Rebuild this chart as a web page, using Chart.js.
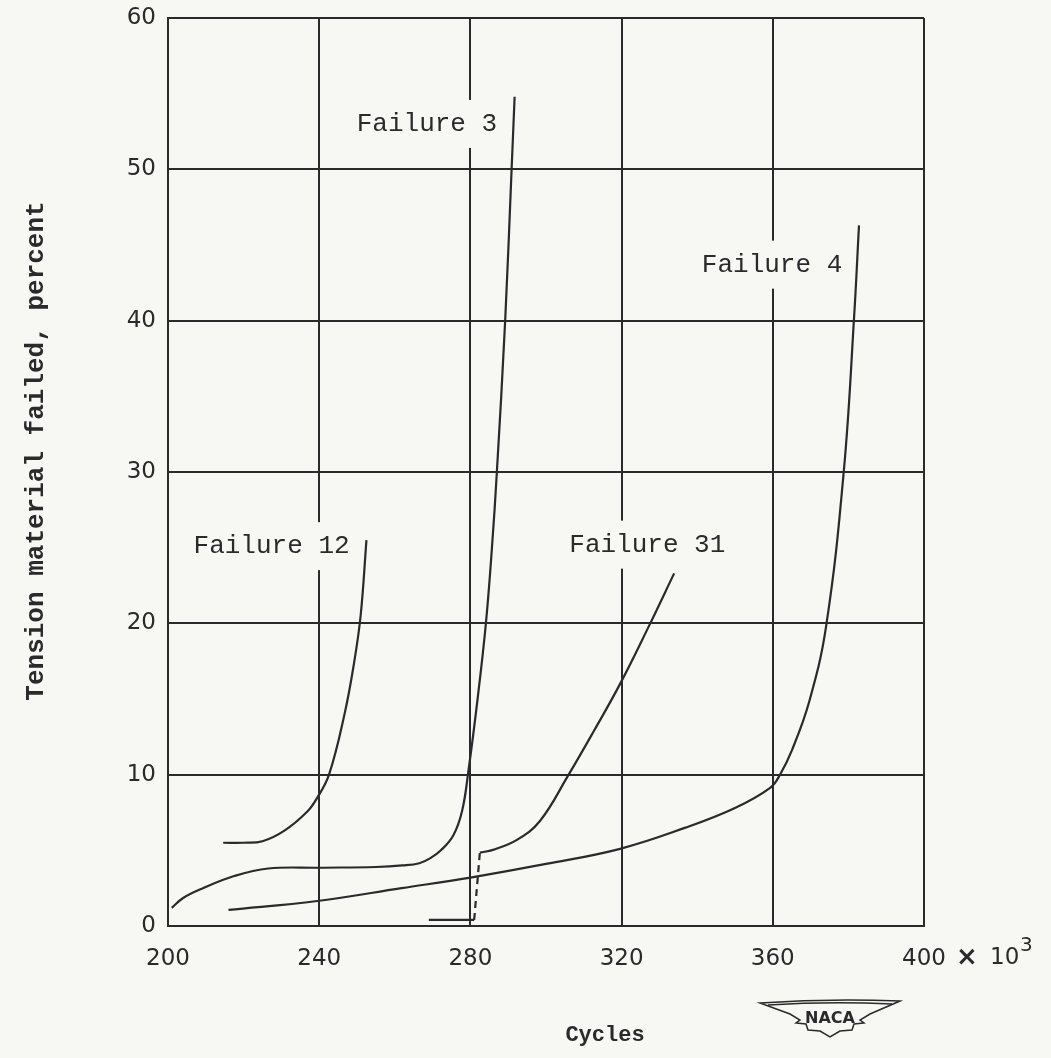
<!DOCTYPE html>
<html>
<head>
<meta charset="utf-8">
<script src="https://cdn.jsdelivr.net/npm/chart.js@4.4.1/dist/chart.umd.min.js"></script>
<style>
  html, body { margin: 0; padding: 0; background: #f7f7f4; }
</style>
</head>
<body>
<canvas id="chart" width="1051" height="1058"></canvas>
<script>
// Values (cycles in thousands, percent failed)
const xTickValues = [200, 240, 280, 320, 360, 400];
const yTickValues = [0, 10, 20, 30, 40, 50, 60];

const failure12X = [214.6, 220, 225, 230.8, 236.8, 239.3, 242.6, 246.7, 249.3, 251, 252.5];
const failure12Y = [5.5, 5.5, 5.6, 6.3, 7.55, 8.4, 10, 14.0, 17.5, 20.6, 25.5];

const failure3X = [201, 204, 208.8, 217.5, 226.5, 240, 255, 262, 266.5, 269.5, 272.2, 275.5, 277.8, 279.4, 281.9, 284.1, 285.7, 287, 289.2, 290.9, 291.7];
const failure3Y = [1.2, 1.85, 2.45, 3.3, 3.8, 3.85, 3.9, 4.0, 4.15, 4.5, 5.0, 6.0, 7.6, 10.1, 15.0, 20, 25, 30, 40, 50, 54.8];

const failure31StartX = [269, 281, 282.5];
const failure31StartY = [0.4, 0.4, 4.85];
const failure31X = [282.5, 286.0, 292.3, 298.4, 305.8, 312.7, 319.6, 327.0, 333.9];
const failure31Y = [4.85, 5.03, 5.69, 6.94, 9.92, 12.9, 16.0, 19.7, 23.3];

const failure4X = [216, 239.5, 261.8, 280, 300, 319.6, 336.9, 350, 359.3, 361.9, 365.1, 369.6, 374.1, 378.8, 381.5, 382.8];
const failure4Y = [1.06, 1.65, 2.5, 3.2, 4.1, 5.1, 6.5, 7.8, 9.13, 9.99, 11.64, 14.8, 19.8, 30.1, 40.2, 46.3];

const curveNames = ['Failure 3', 'Failure 4', 'Failure 12', 'Failure 31'];

const paper = '#f7f7f4';
const ink = '#2a2a2a';
const typeFont = '"Liberation Mono", "DejaVu Sans Mono", monospace';
const letterFont = '"DejaVu Sans", sans-serif';

const zip = (xs, ys) => xs.map((x, i) => ({ x: x, y: ys[i] }));

// paper background
const paperPlugin = {
    id: 'paper',
    beforeDraw(chart) {
        const { ctx, width, height } = chart;
        ctx.save();
        ctx.fillStyle = paper;
        ctx.fillRect(0, 0, width, height);
        ctx.restore();
    }
};

// curve names, drawn over the grid (they break the grid lines) but under the curves
const labelAnchors = [[268.5, 53.0], [359.8, 43.7], [227.4, 25.1], [326.8, 25.2]];
const curveLabelPlugin = {
    id: 'curveLabels',
    beforeDatasetsDraw(chart) {
        const { ctx, scales: { x, y } } = chart;
        ctx.save();
        ctx.font = '26px ' + typeFont;
        ctx.textAlign = 'center';
        ctx.textBaseline = 'middle';
        curveNames.forEach((name, i) => {
            const px = x.getPixelForValue(labelAnchors[i][0]);
            const py = y.getPixelForValue(labelAnchors[i][1]);
            const w = ctx.measureText(name).width;
            ctx.fillStyle = paper;
            ctx.fillRect(px - w / 2 - 3, py - 24, w + 6, 48);
            ctx.fillStyle = ink;
            ctx.fillText(name, px, py);
        });
        ctx.restore();
    }
};

// axis titles, the "x 10^3" multiplier and the NACA wings
const extrasPlugin = {
    id: 'extras',
    afterDraw(chart) {
        const { ctx, chartArea, scales: { x } } = chart;
        ctx.save();
        ctx.fillStyle = ink;

        // y title
        ctx.translate(36, 451);
        ctx.rotate(-Math.PI / 2);
        ctx.font = 'bold 26px ' + typeFont;
        ctx.textAlign = 'center';
        ctx.textBaseline = 'middle';
        ctx.fillText('Tension material failed, percent', 0, 0);
        ctx.setTransform(1, 0, 0, 1, 0, 0);

        // x title
        ctx.font = 'bold 22px ' + typeFont;
        ctx.fillText('Cycles', 605, 1035);

        // multiplier after the last tick
        const px = x.getPixelForValue(400);
        const ly = chartArea.bottom + 32;
        ctx.textAlign = 'left';
        ctx.font = 'bold 26px ' + letterFont;
        ctx.fillText('\u00d7', px + 32, ly);
        ctx.font = '23px ' + letterFont;
        ctx.fillText('10', px + 66, ly);
        ctx.font = '20px ' + letterFont;
        ctx.fillText('3', px + 96, ly - 12);

        // NACA wings
        const cx = 830, cy = 1018;
        ctx.strokeStyle = ink;
        ctx.lineWidth = 1.5;
        ctx.beginPath();
        ctx.moveTo(cx - 70, cy - 15);
        ctx.quadraticCurveTo(cx, cy - 20, cx + 70, cy - 17);
        ctx.lineTo(cx + 40, cy - 4);
        ctx.lineTo(cx + 30, cy + 2);
        ctx.lineTo(cx + 34, cy + 5);
        ctx.lineTo(cx + 24, cy + 6);
        ctx.lineTo(cx + 22, cy + 12);
        ctx.lineTo(cx + 10, cy + 13);
        ctx.lineTo(cx, cy + 19);
        ctx.lineTo(cx - 10, cy + 13);
        ctx.lineTo(cx - 22, cy + 12);
        ctx.lineTo(cx - 24, cy + 6);
        ctx.lineTo(cx - 34, cy + 5);
        ctx.lineTo(cx - 30, cy + 2);
        ctx.lineTo(cx - 40, cy - 4);
        ctx.closePath();
        ctx.stroke();
        ctx.beginPath();
        ctx.moveTo(cx - 62, cy - 13);
        ctx.quadraticCurveTo(cx, cy - 17, cx + 62, cy - 14);
        ctx.stroke();
        ctx.font = 'bold 16px ' + letterFont;
        ctx.textAlign = 'center';
        ctx.textBaseline = 'middle';
        ctx.fillText('NACA', cx, cy + 1);
        ctx.restore();
    }
};

const curveStyle = {
    borderColor: ink,
    borderWidth: 2.2,
    pointRadius: 0,
    fill: false,
    tension: 0.4
};

new Chart(document.getElementById('chart'), {
    type: 'line',
    data: {
        datasets: [
            { label: curveNames[2], data: zip(failure12X, failure12Y), ...curveStyle },
            { label: curveNames[0], data: zip(failure3X, failure3Y), ...curveStyle },
            {
                label: curveNames[3] + ' start',
                data: zip(failure31StartX, failure31StartY),
                ...curveStyle,
                tension: 0,
                segment: { borderDash: c => (c.p0DataIndex === 1 ? [7, 5] : undefined) }
            },
            { label: curveNames[3], data: zip(failure31X, failure31Y), ...curveStyle },
            { label: curveNames[1], data: zip(failure4X, failure4Y), ...curveStyle }
        ]
    },
    options: {
        responsive: false,
        devicePixelRatio: 1,
        animation: false,
        layout: { padding: { top: 18, right: 127, left: 0, bottom: 0 } },
        plugins: {
            legend: { display: false },
            tooltip: { enabled: false }
        },
        scales: {
            x: {
                type: 'linear',
                min: 200,
                max: 400,
                afterBuildTicks: s => { s.ticks = xTickValues.map(v => ({ value: v })); },
                afterFit: s => { s.height = 132; s.paddingLeft = 0; s.paddingRight = 0; },
                grid: { color: ink, lineWidth: 2, drawTicks: false },
                border: { color: ink, width: 2 },
                ticks: {
                    color: ink,
                    padding: 19,
                    maxRotation: 0,
                    font: { family: letterFont, size: 23 },
                    callback: v => String(v)
                }
            },
            y: {
                type: 'linear',
                min: 0,
                max: 60,
                afterBuildTicks: s => { s.ticks = yTickValues.map(v => ({ value: v })); },
                afterFit: s => { s.width = 168; s.paddingTop = 0; s.paddingBottom = 0; },
                grid: { color: ink, lineWidth: 2, drawTicks: false },
                border: { color: ink, width: 2 },
                ticks: {
                    color: ink,
                    padding: 12,
                    font: { family: letterFont, size: 23 },
                    callback: v => String(v)
                }
            }
        }
    },
    plugins: [paperPlugin, curveLabelPlugin, extrasPlugin]
});
</script>
</body>
</html>
